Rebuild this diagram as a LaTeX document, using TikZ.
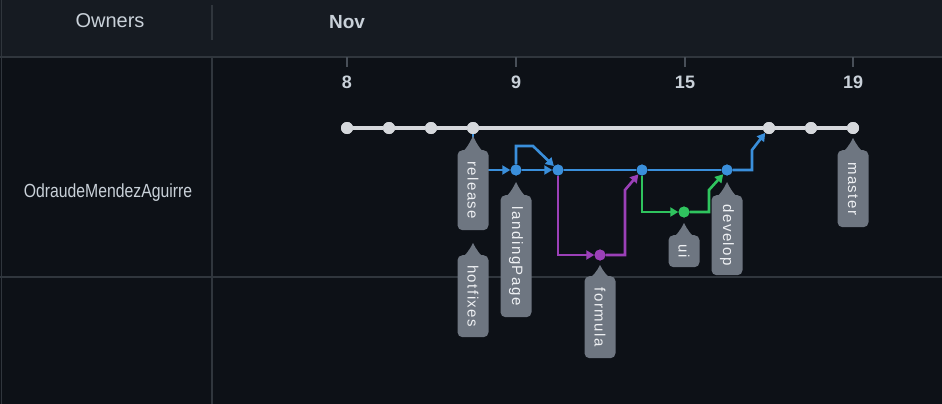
\documentclass[tikz,border=0pt]{standalone}
\usepackage{fontspec}
\setmainfont{Liberation Sans}
\usetikzlibrary{arrows.meta}
\definecolor{hdr}{HTML}{161B22}
\definecolor{bodybg}{HTML}{0D1117}
\definecolor{gridc}{HTML}{30363D}
\definecolor{tickc}{HTML}{484F58}
\definecolor{txt}{HTML}{C9D1D9}
\definecolor{mst}{HTML}{D5D8DC}
\definecolor{blu}{HTML}{3A8FDB}
\definecolor{pur}{HTML}{9B40B8}
\definecolor{grn}{HTML}{2FC45E}
\definecolor{tagc}{HTML}{6E7681}
\definecolor{tagt}{HTML}{EEF0F3}
\newcommand\tagpointer[3]{% x, apex y, box top y
  \fill[tagc] (#1-15,#3+5) .. controls (#1-7,#3+1) and (#1-3,#2+6) .. (#1,#2)
    .. controls (#1+3,#2+6) and (#1+7,#3+1) .. (#1+15,#3+5) -- cycle;}
\begin{document}
\begin{tikzpicture}[x=1pt,y=-1pt,
  gridline/.style={draw=gridc,line width=1.3pt},
  tickline/.style={draw=tickc,line width=1.3pt},
  daylabel/.style={text=txt,font=\fontsize{18}{20}\selectfont\bfseries},
  mdot/.style={circle,fill=mst,inner sep=0pt,minimum size=12pt},
  bdot/.style={circle,fill=blu,inner sep=0pt,minimum size=11pt},
  pdot/.style={circle,fill=pur,inner sep=0pt,minimum size=11pt},
  gdot/.style={circle,fill=grn,inner sep=0pt,minimum size=11pt},
  mline/.style={draw=mst,line width=3.2pt},
  bline/.style={draw=blu,line width=2.6pt},
  pline/.style={draw=pur,line width=2.6pt},
  gline/.style={draw=grn,line width=2.6pt},
  tip/.style={-{Triangle[length=8pt,width=9pt]}},
  tagbox/.style={rotate=-90,anchor=west,fill=tagc,rounded corners=5pt,text=tagt,
    font=\fontsize{15}{17}\selectfont\addfontfeature{LetterSpace=10},
    minimum height=31pt,minimum width=#1,inner sep=0pt}]
\useasboundingbox (0,0) rectangle (942,404);
% backgrounds
\fill[bodybg] (0,0) rectangle (942,404);
\fill[hdr] (0,0) rectangle (942,57);
\draw[gridline] (0,57) -- (942,57);
\draw[gridline] (212,5) -- (212,40);
\draw[gridline] (212,57) -- (212,404);
\draw[gridline] (0,277) -- (942,277);
\draw[gridline] (1.5,0) -- (1.5,404);
% header texts
\node[text=txt,font=\fontsize{20}{22}\selectfont] (owners) at (110,21) {Owners};
\node[text=txt,font=\fontsize{19}{22}\selectfont\bfseries] (nov) at (347,22) {Nov};
\node[text=txt,font=\fontsize{19}{22}\selectfont] (owner) at (108,193)
  {\scalebox{0.83}[1]{OdraudeMendezAguirre}};
% ticks and day labels
\foreach \xx/\dd in {347/8,516/9,685/15,853/19}{
  \draw[tickline] (\xx,57) -- (\xx,67);
  \node[daylabel] (d\dd) at (\xx,82) {\dd};
}
% master commits
\node[mdot] (m1) at (347,128) {};
\node[mdot] (m2) at (389,128) {};
\node[mdot] (m3) at (431,128) {};
\node[mdot] (m4) at (473,128) {};
\node[mdot] (m5) at (769,128) {};
\node[mdot] (m6) at (811,128) {};
\node[mdot] (m7) at (853,128) {};
% branch commits
\node[bdot] (b1) at (516,170) {};
\node[bdot] (b2) at (558,170) {};
\node[bdot] (b3) at (642,170) {};
\node[bdot] (b4) at (727,170) {};
\node[pdot] (f1) at (600,255) {};
\node[gdot] (u1) at (684,212) {};
% master line
\draw[mline] (m1) -- (m2) -- (m3) -- (m4) -- (m5) -- (m6) -- (m7);
% blue
\draw[bline,tip] (m4) |- (b1);
\draw[bline,tip] (b1) -- (b2);
\coordinate (l1) at (516,146);
\coordinate (l2) at (533,146);
\draw[bline,tip] (b1) -- (l1) -- (l2) -- (b2);
\draw[bline] (b2) -- (b3) -- (b4);
\coordinate (k1) at (752,170);
\coordinate (k2) at (752,150);
\draw[bline,tip] (b4) -- (k1) -- (k2) -- (m5);
% purple
\draw[pline,tip] (b2) |- (f1);
\coordinate (p1) at (625,255);
\coordinate (p2) at (625,190);
\draw[pline,tip] (f1) -- (p1) -- (p2) -- (b3);
% green
\draw[gline,tip] (b3) |- (u1);
\coordinate (g1) at (709,212);
\coordinate (g2) at (709,190);
\draw[gline,tip] (u1) -- (g1) -- (g2) -- (b4);
% redraw dots on top
\foreach \n in {m1,m2,m3,m4,m5,m6,m7}{\fill[mst] (\n) circle (6pt);}
\foreach \n in {b1,b2,b3,b4}{\fill[blu] (\n) circle (5.5pt);}
\fill[pur] (f1) circle (5.5pt);
\fill[grn] (u1) circle (5.5pt);
% tags
\tagpointer{473}{136}{150}
\node[tagbox=80pt] (trelease) at (473,150) {release};
\tagpointer{473}{243}{255}
\node[tagbox=82pt] (thotfixes) at (473,255) {hotfixes};
\tagpointer{516}{182}{195}
\node[tagbox=122pt] (tlanding) at (516,195) {landingPage};
\tagpointer{600}{265}{276}
\node[tagbox=82pt] (tformula) at (600,276) {formula};
\tagpointer{684}{223}{235}
\node[tagbox=32pt] (tui) at (684,235) {ui};
\tagpointer{727}{182}{195}
\node[tagbox=80pt] (tdevelop) at (727,195) {develop};
\tagpointer{853}{138}{150}
\node[tagbox=77pt] (tmaster) at (853,150) {master};
\end{tikzpicture}
\end{document}
